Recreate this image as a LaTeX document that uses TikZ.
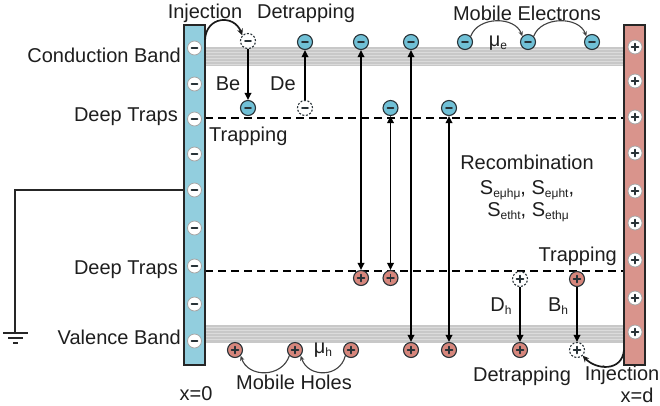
\documentclass[tikz,border=0pt]{standalone}
\usepackage{fontspec}
\setmainfont{Liberation Sans}
\usetikzlibrary{arrows.meta,calc}
\definecolor{eleL}{RGB}{146,206,222}
\definecolor{eleR}{RGB}{217,148,140}
\definecolor{ecol}{RGB}{112,192,214}
\definecolor{hcol}{RGB}{214,134,124}
\definecolor{pedge}{RGB}{40,50,55}
\definecolor{bandc}{RGB}{200,200,200}
\definecolor{txt}{RGB}{30,30,30}
\newcommand\sbs[1]{\raisebox{-0.3ex}{\fontsize{12}{12}\selectfont #1}}
\tikzset{
  sgnm/.style={path picture={\draw[solid,line width=1.9pt,line cap=round,pedge]
     ($(path picture bounding box.center)+(-3,0)$)--($(path picture bounding box.center)+(3,0)$);}},
  sgnp/.style={path picture={\draw[solid,line width=1.7pt,line cap=round,pedge]
     ($(path picture bounding box.center)+(-3.4,0)$)--($(path picture bounding box.center)+(3.4,0)$)
     ($(path picture bounding box.center)+(0,-3.4)$)--($(path picture bounding box.center)+(0,3.4)$);}},
  particle/.style={circle,minimum size=15pt,inner sep=0pt,line width=1.1pt,draw=pedge},
  electron/.style={particle,fill=ecol,sgnm},
  hole/.style={particle,fill=hcol,sgnp},
  ghostE/.style={particle,fill=white,dashed,dash pattern=on 2pt off 1.6pt,sgnm},
  ghostH/.style={particle,fill=white,dashed,dash pattern=on 2pt off 1.6pt,sgnp},
  ecircm/.style={circle,minimum size=14pt,inner sep=0pt,draw=gray!70,line width=0.8pt,fill=white,sgnm},
  ecircp/.style={circle,minimum size=14pt,inner sep=0pt,draw=gray!70,line width=0.8pt,fill=white,sgnp},
  electrode/.style={draw=black!85,line width=1.4pt,minimum width=21pt,minimum height=340pt,inner sep=0pt},
  varrow/.style={line width=1.8pt,-{Triangle[length=7pt,width=6.5pt]}},
  darrow/.style={line width=1.8pt,{Triangle[length=7pt,width=6.5pt]}-{Triangle[length=7pt,width=6.5pt]}},
  mob/.style={line width=1.1pt,black!75,-{Stealth[length=5pt,width=4.5pt]}},
  inj/.style={line width=1.7pt,black!90,-{Stealth[length=6.5pt,width=6pt]}},
  trapline/.style={line width=1.8pt,dash pattern=on 8pt off 5pt},
  lbl/.style={text=txt,inner sep=0pt}
}
\begin{document}
\begin{tikzpicture}[x=1pt,y=-1pt,font=\fontsize{20}{23}\selectfont]
\useasboundingbox (0,0) rectangle (660,405);
% bands
\fill[bandc] (205,47) rectangle (624,66);
\foreach \yy in {49,52,...,64} \draw[white,opacity=0.35,line width=0.6pt] (205,\yy)--(624,\yy);
\fill[bandc] (205,325) rectangle (624,343);
\foreach \yy in {327,330,...,341} \draw[white,opacity=0.35,line width=0.6pt] (205,\yy)--(624,\yy);
% trap lines
\coordinate (t1a) at (205,118); \coordinate (t1b) at (624,118);
\coordinate (t2a) at (205,271); \coordinate (t2b) at (624,271);
\draw[trapline] (t1a)--(t1b);
\draw[trapline] (t2a)--(t2b);
% electrodes
\node[electrode,fill=eleL] (elL) at (194.5,195) {};
\node[electrode,fill=eleR] (elR) at (634.5,195) {};
\foreach \yy [count=\i] in {48,84,119,154,190,228,266,304,341}
  \node[ecircm] (cl\i) at (194.5,\yy) {};
\foreach \yy [count=\i] in {47,81,117,153,191,223,260,298,332}
  \node[ecircp] (cr\i) at (635,\yy) {};
% electrons
\node[ghostE] (e1) at (248,41) {};
\node[electron] (e2) at (248,108) {};
\node[ghostE] (e3) at (305,108) {};
\node[electron] (e4) at (305,42) {};
\node[electron] (e5) at (361,42) {};
\node[electron] (e6) at (411,42) {};
\node[electron] (e7) at (390.5,108) {};
\node[electron] (e8) at (449,108) {};
\node[electron] (m1) at (465,42) {};
\node[electron] (m2) at (528,42) {};
\node[electron] (m3) at (592,42) {};
% holes
\node[hole] (h1) at (361,278) {};
\node[hole] (h2) at (390.5,278) {};
\node[ghostH] (h3) at (520,279) {};
\node[hole] (h4) at (577,279) {};
\node[hole] (h5) at (520,350) {};
\node[ghostH] (h6) at (577,350) {};
\node[hole] (h7) at (411,350) {};
\node[hole] (h8) at (449,350) {};
\node[hole] (p1) at (235,350) {};
\node[hole] (p2) at (295,350) {};
\node[hole] (p3) at (351,350) {};
% transitions
\draw[varrow] (e1)--(e2);
\draw[varrow] (e3)--(e4);
\draw[darrow] (e5)--(h1);
\draw[darrow] (e7)--(h2);
\draw[darrow] (e6)--(h7);
\draw[darrow] (e8)--(h8);
\draw[varrow] (h3)--(h5);
\draw[varrow] (h4)--(h6);
% mobility arcs
\draw[mob] (m1.north east) .. controls (478,16) and (515,16) .. (m2.north west);
\draw[mob] (m2.north east) .. controls (541,16) and (579,16) .. (m3.north west);
\draw[mob] (p2.south west) .. controls (282,378) and (248,378) .. (p1.south east);
\draw[mob] (p3.south west) .. controls (340,378) and (308,378) .. (p2.south east);
% injection arcs
\coordinate (injT) at (205,40);
\coordinate (injB) at (624,350);
\draw[inj] (injT) .. controls (206,16) and (234,14) .. (e1.north west);
\draw[inj] (injB) .. controls (622,372) and (596,370) .. (h6.south east);
% ground
\coordinate (gw) at (184,190);
\coordinate (gnd) at (15,333);
\draw[line width=1.6pt,black!85] (gw) -| (gnd);
\draw[line width=1.5pt,black!85] (3,333)--(28,333) (8,338)--(23,338) (13,343)--(18,343);
% labels
\node[lbl] (lInjT) at (205,13) {Injection};
\node[lbl] (lDetT) at (306,13) {Detrapping};
\node[lbl] (lMobE) at (527,13) {Mobile Electrons};
\node[lbl,anchor=east] (lCB) at (181,55) {Conduction Band};
\node[lbl,anchor=east] (lDT1) at (178,117) {Deep Traps};
\node[lbl,anchor=east] (lDT2) at (178,270) {Deep Traps};
\node[lbl,anchor=east] (lVB) at (181,337) {Valence Band};
\node[lbl] (lBe) at (228,84) {Be};
\node[lbl] (lDe) at (283,84) {De};
\node[lbl,anchor=west] (lTr1) at (209,136) {Trapping};
\node[lbl,anchor=east] (lTr2) at (617,256) {Trapping};
\node[lbl] (lmue) at (498,43) {μ\sbs{e}};
\node[lbl] (lmuh) at (323,350) {μ\sbs{h}};
\node[lbl] (lDh) at (501,306) {D\sbs{h}};
\node[lbl] (lBh) at (558,306) {B\sbs{h}};
\node[lbl] (lRec) at (527,162) {Recombination};
\node[lbl] (lS1) at (527,190) {S\sbs{eμhμ}, S\sbs{eμht},};
\node[lbl] (lS2) at (528,212) {S\sbs{etht}, S\sbs{ethμ}};
\node[lbl] (lMobH) at (294,382) {Mobile Holes};
\node[lbl] (lDetB) at (522,376) {Detrapping};
\node[lbl] (lInjB) at (622,375) {Injection};
\node[lbl] (lx0) at (196,394) {x=0};
\node[lbl] (lxd) at (637,395) {x=d};
\end{tikzpicture}
\end{document}
